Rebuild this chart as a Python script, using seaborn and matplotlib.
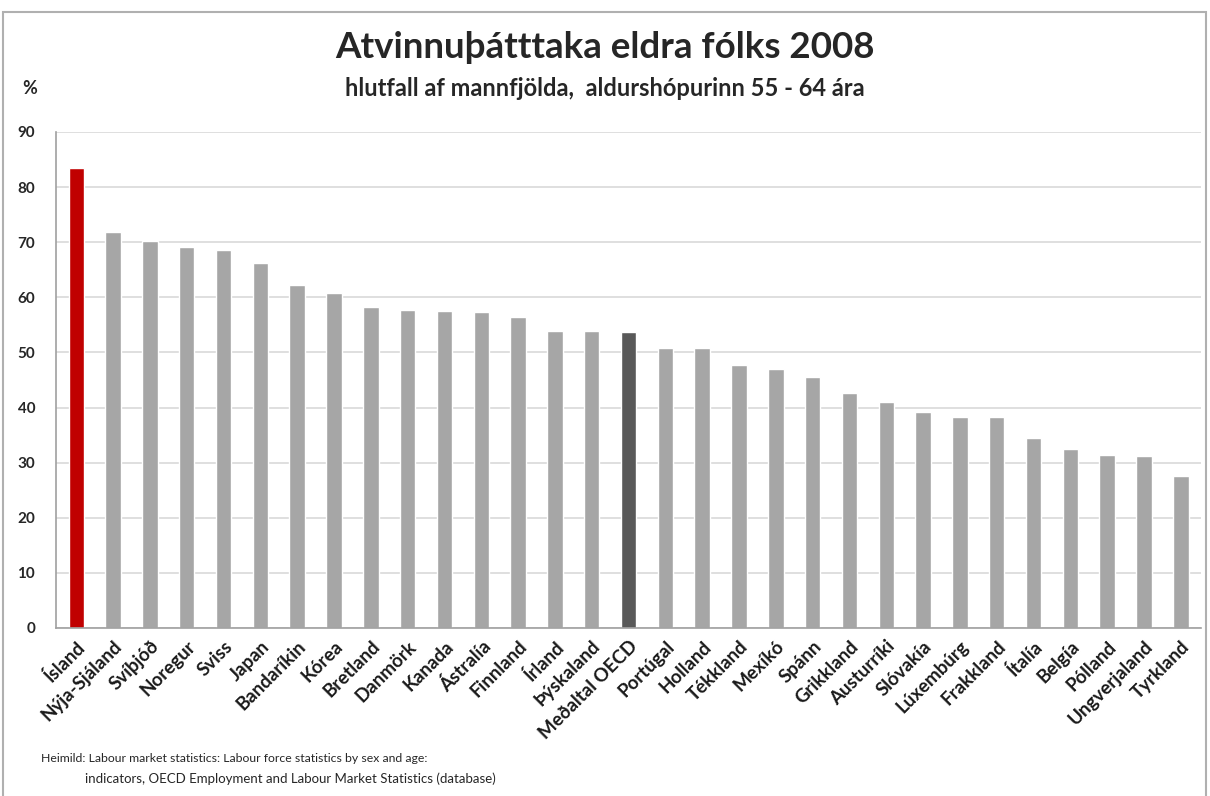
import matplotlib
matplotlib.use('Agg')
import matplotlib.pyplot as plt
import seaborn as sns
import pandas as pd

countries = ['Ísland', 'Nýja-Sjáland', 'Svíþjóð', 'Noregur', 'Sviss', 'Japan',
             'Bandaríkin', 'Kórea', 'Bretland', 'Danmörk', 'Kanada', 'Ástralía',
             'Finnland', 'Írland', 'Þýskaland', 'Meðaltal OECD', 'Portúgal',
             'Holland', 'Tékkland', 'Mexíkó', 'Spánn', 'Grikkland', 'Austurríki',
             'Slóvakía', 'Lúxembúrg', 'Frakkland', 'Ítalía', 'Belgía', 'Pólland',
             'Ungverjaland', 'Tyrkland']
rates = [83.4, 71.9, 70.3, 69.2, 68.5, 66.2, 62.2, 60.7, 58.2, 57.7, 57.5, 57.3,
         56.4, 53.9, 53.8, 53.7, 50.8, 50.8, 47.7, 47.0, 45.6, 42.7, 41.0,
         39.1, 38.2, 38.2, 34.4, 32.5, 31.4, 31.2, 27.5]
yticks = list(range(0, 100, 10))

# Iceland red, OECD average dark, rest light gray
colors = {c: '#a6a6a6' for c in countries}
colors['Ísland'] = '#c00000'
colors['Meðaltal OECD'] = '#595959'

sns.set_style('white')
plt.rcParams['font.family'] = ['Lato', 'DejaVu Sans']

df = pd.DataFrame({'land': countries, 'hlutfall': rates})

fig = plt.figure(figsize=(12.1, 7.96), dpi=100)
ax = fig.add_axes([0.0463, 0.2111, 0.9463, 0.6231])
sns.barplot(data=df, x='land', y='hlutfall', hue='land', palette=colors,
            width=0.42, legend=False, ax=ax, saturation=1)

ax.set_ylim(0, 90)
ax.set_xlim(-0.55, len(countries) - 0.45)
ax.set_yticks(yticks)
ax.set_yticklabels([str(t) for t in yticks], fontweight='bold', fontsize=11)
ax.yaxis.grid(True, color='#d9d9d9', linewidth=1.2)
ax.set_axisbelow(True)
ax.tick_params(axis='y', length=0, pad=15)
ax.tick_params(axis='x', length=0, pad=7)
plt.setp(ax.get_xticklabels(), rotation=45, ha='right', rotation_mode='anchor',
         fontweight='bold', fontsize=13.5, color='#1a1a1a')
ax.set_xlabel('')
ax.set_ylabel('')
for side in ['top', 'right']:
    ax.spines[side].set_visible(False)
for side in ['left', 'bottom']:
    ax.spines[side].set_color('#a0a0a0')
    ax.spines[side].set_linewidth(1.2)

fig.text(0.5, 0.94, 'Atvinnuþátttaka eldra fólks 2008', ha='center', va='center',
         fontsize=26.5, fontweight='bold')
fig.text(0.5, 0.889, 'hlutfall af mannfjölda,  aldurshópurinn 55 - 64 ára',
         ha='center', va='center', fontsize=17, fontweight='bold')
fig.text(0.018, 0.889, '%', ha='left', va='center', fontsize=13, fontweight='bold')
fig.text(0.034, 0.047, 'Heimild: Labour market statistics: Labour force statistics by sex and age:',
         ha='left', va='center', fontsize=8.8)
fig.text(0.07, 0.022, 'indicators, OECD Employment and Labour Market Statistics (database)',
         ha='left', va='center', fontsize=9.5)

# outer frame like the Excel chart area
frame = plt.Rectangle((3 / 1210, -0.01), 1203 / 1210, 0.995, transform=fig.transFigure,
                      fill=False, edgecolor='#b0b0b0', linewidth=1.5)
fig.patches.append(frame)

fig.savefig('out.png', dpi=100)
